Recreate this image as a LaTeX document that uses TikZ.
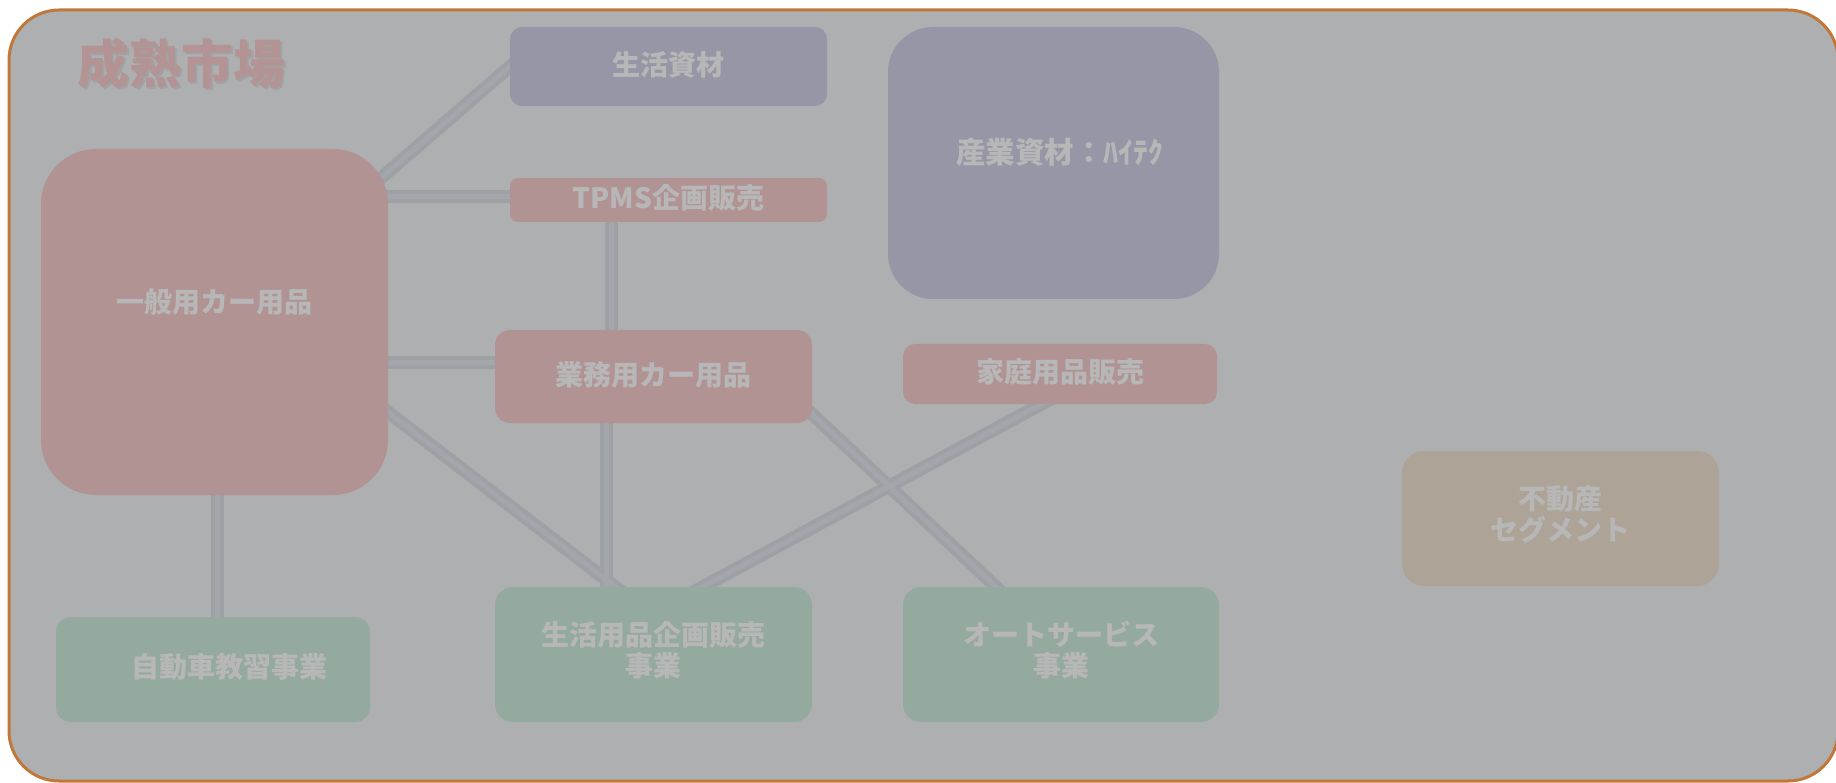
\documentclass[tikz,border=0pt]{standalone}
\usepackage{fontspec}
\newfontfamily\jp{Noto Sans CJK JP}
\usetikzlibrary{calc}
\pgfdeclarelayer{framelayer}
\pgfdeclarelayer{linklayer}
\pgfsetlayers{framelayer,linklayer,main}
\definecolor{bgc}{HTML}{AEAFB0}
\definecolor{corange}{HTML}{C0783A}
\definecolor{cpink}{HTML}{B19394}
\definecolor{cpurple}{HTML}{9796A6}
\definecolor{cgreen}{HTML}{95AA9F}
\definecolor{ctan}{HTML}{ADA397}
\definecolor{ctext}{HTML}{B8B7B7}
\definecolor{ctitle}{HTML}{B39394}
\definecolor{clink}{HTML}{9DA0A5}
\definecolor{clinkin}{HTML}{A3A6AA}
\begin{document}
\begin{tikzpicture}[x=1pt,y=-1pt,
  box/.style={draw=none,inner sep=0pt,outer sep=0pt,anchor=north west},
  pinkbox/.style={box,fill=cpink},
  purplebox/.style={box,fill=cpurple},
  greenbox/.style={box,fill=cgreen},
  tanbox/.style={box,fill=ctan},
  lbl/.style={font=\jp\bfseries\fontsize{28}{31}\selectfont,text=ctext,align=center,inner sep=0pt},
  titlefont/.style={font=\jp\bfseries\fontsize{52}{56}\selectfont,inner sep=0pt},
  link/.style={draw=clink,line width=13pt},
  linkin/.style={draw=clinkin,line width=5pt}]
\useasboundingbox (0,0) rectangle (1836,783);
\begin{pgfonlayer}{framelayer}
\node[box,fill=bgc,draw=corange,line width=3pt,rounded corners=50pt,
  minimum width=1829pt,minimum height=771pt] (frame) at (9,10) {};
\end{pgfonlayer}
% boxes
\node[purplebox,rounded corners=12pt,minimum width=317pt,minimum height=79pt] (seikatsu) at (510,27) {};
\node[pinkbox,rounded corners=8pt,minimum width=317pt,minimum height=44pt] (tpms) at (510,178) {};
\node[purplebox,rounded corners=45pt,minimum width=331pt,minimum height=272pt] (sangyo) at (888,27) {};
\node[pinkbox,rounded corners=55pt,minimum width=347pt,minimum height=346pt] (ippan) at (41,149) {};
\node[pinkbox,rounded corners=15pt,minimum width=317pt,minimum height=93pt] (gyomu) at (495,330) {};
\node[pinkbox,rounded corners=12pt,minimum width=314pt,minimum height=60pt] (katei) at (903,344) {};
\node[greenbox,rounded corners=18pt,minimum width=317pt,minimum height=135pt] (seiyo) at (495,587) {};
\node[greenbox,rounded corners=18pt,minimum width=316pt,minimum height=135pt] (auto) at (903,587) {};
\node[greenbox,rounded corners=15pt,minimum width=314pt,minimum height=105pt] (jido) at (56,617) {};
\node[tanbox,rounded corners=22pt,minimum width=317pt,minimum height=135pt] (fudo) at (1402,451) {};
% title
\node[titlefont,text=black,opacity=0.07] (titleshadow) at (183,66) {成熟市場};
\node[titlefont,text=ctitle] (title) at (181,64) {成熟市場};
% labels
\node[lbl] (tseikatsu) at ($(seikatsu.center)+(0,-2)$) {生活資材};
\node[lbl] (ttpms) at ($(tpms.center)+(0,-2)$) {TPMS企画販売};
\node[lbl,font=\jp\bfseries\fontsize{29.5}{32}\selectfont] (tsangyo) at ($(sangyo.center)+(6,-11)$) {産業資材：ﾊｲﾃｸ};
\node[lbl] (tippan) at ($(ippan.center)+(0,-20)$) {一般用カー用品};
\node[lbl] (tgyomu) at ($(gyomu.center)+(0,-2)$) {業務用カー用品};
\node[lbl] (tkatei) at ($(katei.center)+(0,-2)$) {家庭用品販売};
\node[lbl] (tseiyo) at ($(seiyo.center)+(0,-4)$) {生活用品企画販売\\事業};
\node[lbl] (tauto) at ($(auto.center)+(0,-4)$) {オートサービス\\事業};
\node[lbl] (tjido) at ($(jido.center)+(16,-3)$) {自動車教習事業};
\node[lbl] (tfudo) at ($(fudo.center)+(0,-4)$) {不動産\\セグメント};
% connectors
\begin{pgfonlayer}{linklayer}
\foreach \s in {link,linkin}{
\draw[\s] (ippan.center) -- ($(ippan.center)!1.04!(seikatsu.west)$);
\draw[\s] ([yshift=3pt]tpms.west) -- ([yshift=3pt]tpms.west -| ippan.center);
\draw[\s] ([xshift=101pt]tpms.south west) -- ([xshift=101pt]tpms.south west |- gyomu.north);
\draw[\s] ([yshift=13.5pt]gyomu.west) -- ([yshift=13.5pt]gyomu.west -| ippan.center);
\draw[\s] ([xshift=-50pt,yshift=-51.5pt]ippan.east) -- ([xshift=-18.5pt,yshift=-15pt]seiyo.north);
\draw[\s] ([xshift=-47.5pt]gyomu.south) -- ([xshift=-47.5pt]seiyo.north);
\draw[\s] ([xshift=-34pt,yshift=-5.5pt]gyomu.east) -- ([xshift=-50pt,yshift=-14pt]auto.north);
\draw[\s] ([xshift=0pt,yshift=10pt]katei.south) -- ([xshift=30.5pt,yshift=-10pt]seiyo.north);
\draw[\s] ([xshift=2.5pt]ippan.south) -- ([xshift=2.5pt]ippan.south |- jido.north);
}
\end{pgfonlayer}
\end{tikzpicture}
\end{document}
